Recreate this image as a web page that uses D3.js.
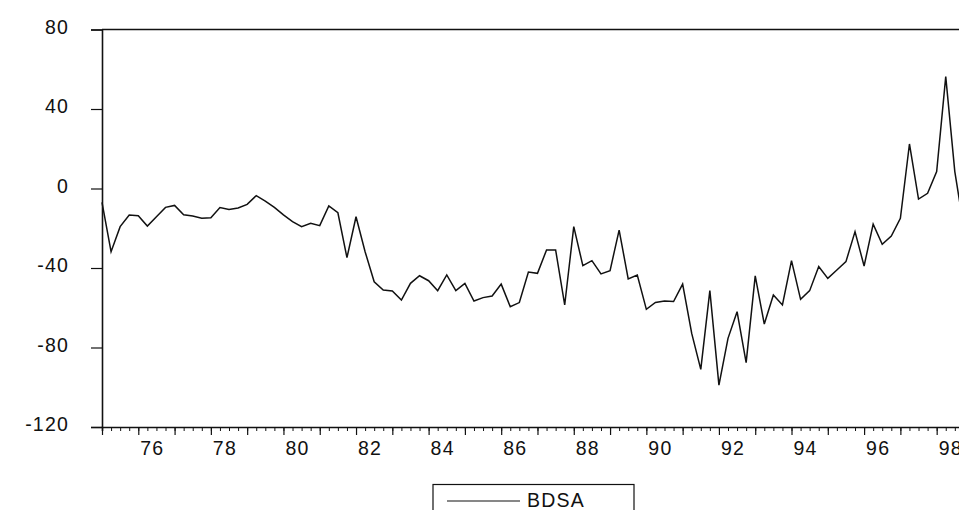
<!DOCTYPE html>
<html>
<head>
<meta charset="utf-8">
<script src="https://cdn.jsdelivr.net/npm/d3@7"></script>
<style>
  html, body { margin: 0; padding: 0; background: #fff; }
  svg { display: block; }
  text { font-family: "Liberation Sans", Arial, Helvetica, sans-serif; fill: #111; }
</style>
</head>
<body>
<svg id="chart" width="959" height="510"></svg>
<script>
// ---- data (quarterly, 1975Q1 .. 1998Q4) ----
const seriesName = "BDSA";
const startYear = 1975;
const bdsa = [
  -7, -31.8, -19.2, -13.3,
  -13.7, -18.9, -14.2, -9.5,
  -8.5, -13.2, -13.8, -15.0,
  -14.7, -9.6, -10.5, -9.8,
  -8.0, -3.6, -6.3, -9.5,
  -13.3, -16.7, -19.2, -17.5,
  -18.7, -8.8, -12.2, -34.8,
  -14.2, -31.8, -46.9, -51.1,
  -51.6, -56.1, -47.7, -43.9,
  -46.4, -51.4, -43.5, -51.4,
  -47.7, -56.6, -54.9, -54.1,
  -48.1, -59.5, -57.4, -42.0,
  -42.7, -30.9, -30.9, -58.6,
  -19.2, -38.8, -36.3, -43.0,
  -41.3, -20.9, -45.5, -43.5,
  -60.8, -57.3, -56.6, -56.9,
  -48.1, -72.9, -91.0, -51.4,
  -98.9, -75.4, -62.0, -87.6,
  -44.0, -68.2, -53.6, -58.6,
  -36.3, -55.8, -51.4, -39.3,
  -45.2, -41.0, -36.8, -21.7,
  -39.0, -17.9, -28.1, -23.9,
  -15.0, 22.4, -5.3, -2.4,
  8.5, 56.3, 8.5, -20
];
const yTicks = [-120, -80, -40, 0, 40, 80];
const yLabels = ["-120", "-80", "-40", "0", "40", "80"];
const xLabelYears = [1976, 1978, 1980, 1982, 1984, 1986, 1988, 1990, 1992, 1994, 1996, 1998];
const xLabels = ["76", "78", "80", "82", "84", "86", "88", "90", "92", "94", "96", "98"];

// ---- layout ----
const svg = d3.select("#chart");
const plotLeft = 102, plotTop = 29.5, plotBottom = 427;
const pxPerYear = 36.29;
const endYear = 1999;

const x = d3.scaleLinear().domain([startYear, endYear]).range([plotLeft, plotLeft + (endYear - startYear) * pxPerYear]);
const y = d3.scaleLinear().domain([-120, 80]).range([plotBottom, plotTop]);

const points = bdsa.map((v, i) => ({ t: startYear + i / 4, v }));

// frame (top + right)
svg.append("path")
  .attr("d", `M${x(startYear)},${y(80)}H${x(endYear)}V${y(-120)}`)
  .attr("fill", "none").attr("stroke", "#111").attr("stroke-width", 1.4);

// y axis
const yAxis = d3.axisLeft(y).tickValues(yTicks).tickSize(11).tickPadding(22)
  .tickFormat((d, i) => yLabels[i]);
const gy = svg.append("g").attr("transform", `translate(${plotLeft},0)`).call(yAxis);
gy.select(".domain").attr("stroke", "#111").attr("stroke-width", 1.6);
gy.selectAll(".tick line").attr("stroke", "#111").attr("stroke-width", 1.2);
gy.selectAll(".tick text")
  .style("font-size", "19.5px").style("letter-spacing", "1.2px")
  .attr("fill", "#111").attr("dy", "0.2em");

// x axis: minor quarterly ticks
const quarterTicks = d3.range(0, (endYear - startYear) * 4 + 1).map(i => startYear + i / 4);
const xMinor = d3.axisBottom(x).tickValues(quarterTicks).tickSize(4).tickFormat("");
const gxm = svg.append("g").attr("transform", `translate(0,${plotBottom})`).call(xMinor);
gxm.select(".domain").attr("stroke", "#111").attr("stroke-width", 1.6);
gxm.selectAll(".tick line").attr("stroke", "#111").attr("stroke-width", 1);

// x axis: major yearly ticks
const yearTicks = d3.range(startYear, endYear + 1);
const xMajor = d3.axisBottom(x).tickValues(yearTicks).tickSize(8).tickFormat("");
const gxM = svg.append("g").attr("transform", `translate(0,${plotBottom})`).call(xMajor);
gxM.select(".domain").remove();
gxM.selectAll(".tick line").attr("stroke", "#111").attr("stroke-width", 1.2);

// x labels, left-aligned just after the year tick
const xLab = d3.axisBottom(x).tickValues(xLabelYears).tickSize(0)
  .tickFormat((d, i) => xLabels[i]);
const gxl = svg.append("g").attr("transform", `translate(0,${plotBottom})`).call(xLab);
gxl.select(".domain").remove();
gxl.selectAll(".tick text")
  .attr("text-anchor", "start").attr("x", 1.5).attr("y", 28).attr("dy", 0)
  .attr("fill", "#111")
  .style("font-size", "19.5px").style("letter-spacing", "1.2px");

// series line
const line = d3.line().x(d => x(d.t)).y(d => y(d.v));
svg.append("path")
  .datum(points)
  .attr("d", line)
  .attr("fill", "none")
  .attr("stroke", "#111")
  .attr("stroke-width", 1.5)
  .attr("stroke-linejoin", "miter");

// legend
const lg = svg.append("g").attr("transform", "translate(433,484.5)");
lg.append("rect").attr("x", 0).attr("y", 0).attr("width", 201).attr("height", 40)
  .attr("fill", "none").attr("stroke", "#111").attr("stroke-width", 1.2);
lg.append("line").attr("x1", 14).attr("x2", 87).attr("y1", 16.5).attr("y2", 16.5)
  .attr("stroke", "#111").attr("stroke-width", 1.1);
lg.append("text").attr("x", 94).attr("y", 22.5).text(seriesName)
  .style("font-size", "19.5px").style("letter-spacing", "1.2px");
</script>
</body>
</html>
